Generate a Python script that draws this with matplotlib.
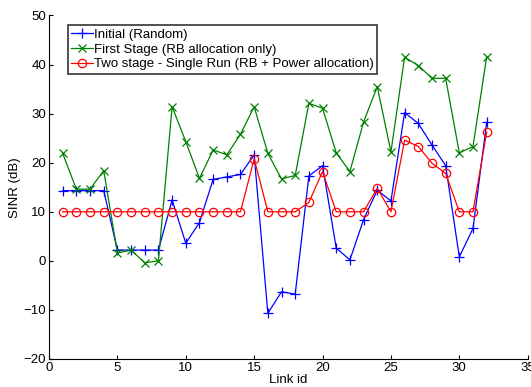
import numpy as np
import matplotlib
matplotlib.use("Agg")
import matplotlib.pyplot as plt

plt.rcParams['font.family'] = ['Liberation Sans', 'DejaVu Sans']

link_id = list(range(1, 33))
initial = [14.3, 14.3, 14.3, 14.3, 2.2, 2.2, 2.2, 2.2, 12.4, 3.6, 7.8, 16.6,
           17.1, 17.6, 21.6, -10.7, -6.3, -6.8, 17.3, 19.4, 2.6, 0.2, 8.4, 14.4,
           12.2, 30.2, 28.0, 23.6, 19.4, 0.8, 6.6, 28.2]
first_stage = [21.9, 14.6, 14.6, 18.4, 1.6, 2.2, -0.4, 0.0, 31.4, 24.3, 16.8, 22.6,
               21.6, 25.8, 31.4, 21.9, 16.7, 17.4, 32.1, 31.1, 22.0, 18.2, 28.3, 35.5,
               22.2, 41.5, 39.8, 37.2, 37.2, 22.0, 23.3, 41.6]
two_stage = [10, 10, 10, 10, 10, 10, 10, 10, 10, 10, 10, 10,
             10, 10, 20.8, 10, 10, 10, 11.9, 18.2, 10, 10, 10, 14.8,
             10, 24.6, 23.3, 19.9, 17.8, 10, 10, 26.2]

fig = plt.figure(figsize=(5.31, 3.87), dpi=100)
ax = fig.add_axes([0.0923, 0.0724, 0.9015, 0.8876])

ax.plot(link_id, initial, color='blue', marker='+', lw=0.9, ms=7, mew=0.9,
        label='Initial (Random)')
ax.plot(link_id, first_stage, color=(0, 0.5, 0), marker='x', lw=0.9, ms=6, mew=0.9,
        label='First Stage (RB allocation only)')
ax.plot(link_id, two_stage, color='red', marker='o', lw=0.9, ms=6, mew=0.9,
        mfc='none', label='Two stage - Single Run (RB + Power allocation)')

ax.set_xlim(0, 35)
ax.set_ylim(-20, 50)
ax.set_xticks(range(0, 36, 5))
ax.set_yticks(range(-20, 51, 10))
ax.set_xlabel('Link id', fontsize=9.5, labelpad=0)
ax.set_ylabel('SINR (dB)', fontsize=9.5, labelpad=2)
ax.tick_params(direction='in', labelsize=9.5, length=3, pad=2)
for side in ['top', 'right']:
    ax.spines[side].set_visible(False)

leg = ax.legend(loc='upper left', bbox_to_anchor=(0.04, 0.972), fontsize=9.5,
                frameon=True, fancybox=False, borderpad=0.25, labelspacing=0.2,
                handlelength=1.6, handletextpad=0.1, borderaxespad=0)
leg.get_frame().set_edgecolor('black')
leg.get_frame().set_linewidth(1.2)

fig.savefig('out.png', dpi=100)
